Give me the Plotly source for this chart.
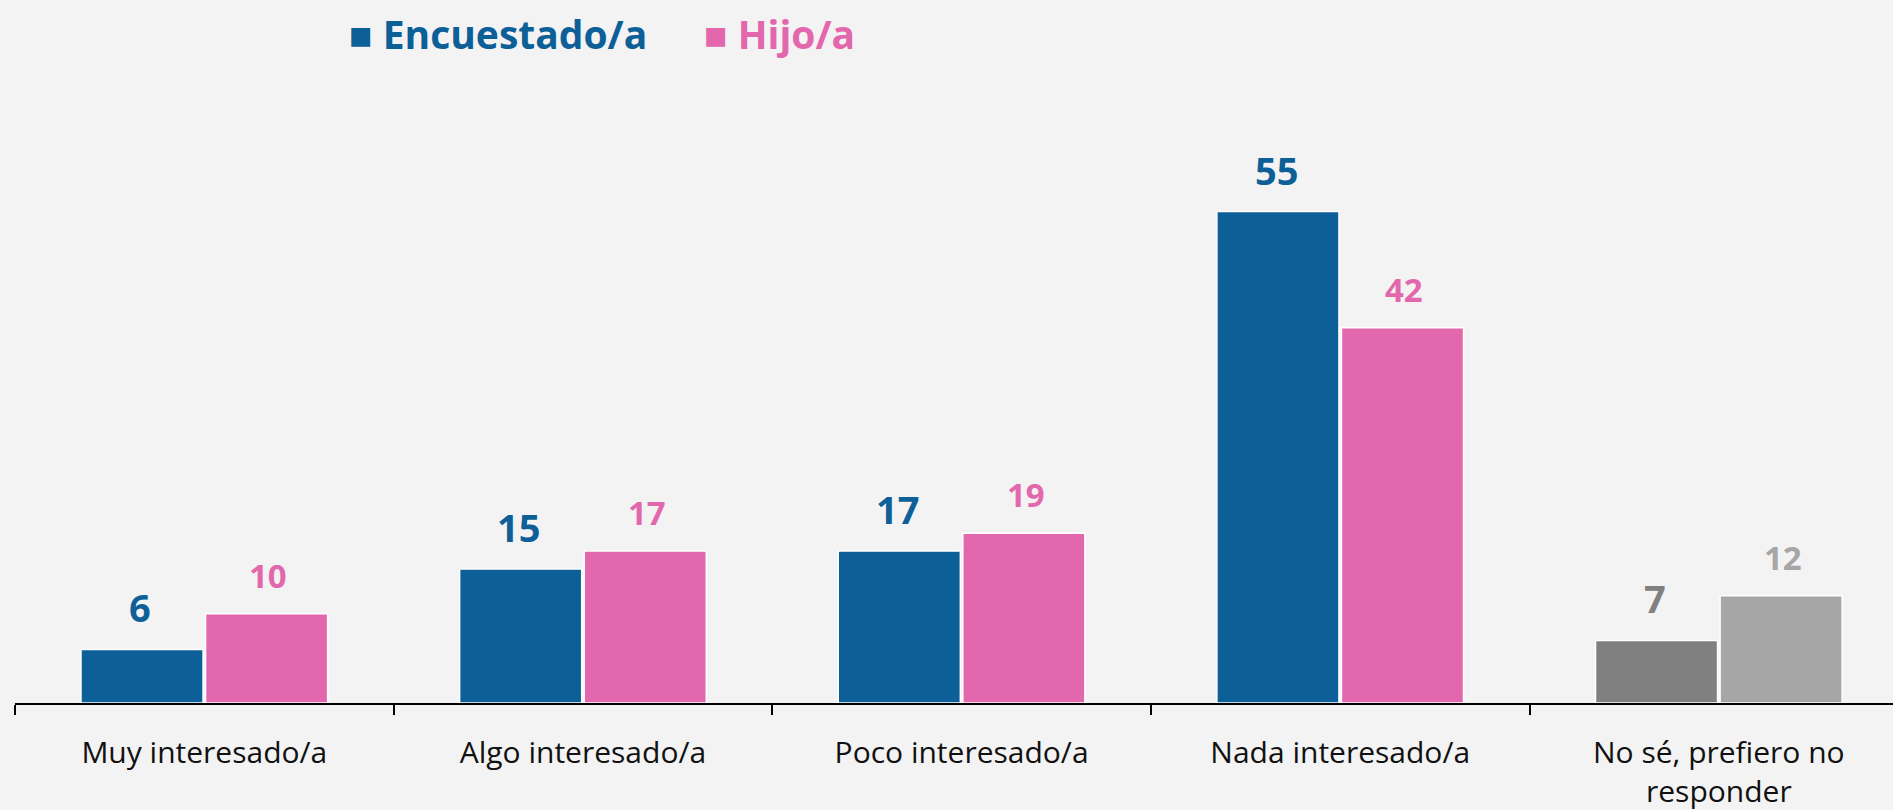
import plotly.graph_objects as go

categories = ["Muy interesado/a", "Algo interesado/a", "Poco interesado/a",
              "Nada interesado/a", "No sé, prefiero no<br>responder"]
encuestado = [6, 15, 17, 55, 7]
hijo = [10, 17, 19, 42, 12]

blue = "#0c5f97"
pink = "#e367ac"
gray_dark = "#808080"
gray_light = "#a6a6a6"

# last category ("No sé") drawn in grays
enc_colors = [blue] * 4 + [gray_dark]
hijo_colors = [pink] * 4 + [gray_light]

fig = go.Figure()

fig.add_trace(go.Bar(
    x=categories, y=encuestado, name="Encuestado/a",
    marker=dict(color=enc_colors, line=dict(color="white", width=1.5)),
    showlegend=False, hoverinfo="x+y"
))
fig.add_trace(go.Bar(
    x=categories, y=hijo, name="Hijo/a",
    marker=dict(color=hijo_colors, line=dict(color="white", width=1.5)),
    showlegend=False, hoverinfo="x+y"
))

# value labels above bars
for i, cat in enumerate(categories):
    fig.add_annotation(
        x=cat, y=encuestado[i], xshift=-64, yshift=14,
        text=f"<b>{encuestado[i]}</b>", showarrow=False, yanchor="bottom",
        font=dict(family="Open Sans", size=38, color=enc_colors[i])
    )
    fig.add_annotation(
        x=cat, y=hijo[i], xshift=64, yshift=14,
        text=f"<b>{hijo[i]}</b>", showarrow=False, yanchor="bottom",
        font=dict(family="Open Sans", size=33, color=hijo_colors[i])
    )

# legend drawn as text
fig.add_annotation(
    x=347, y=33, xref="paper", yref="paper", showarrow=False,
    text="<b>■ Encuestado/a</b>", xanchor="left", yanchor="middle",
    font=dict(family="Open Sans", size=39, color=blue)
)
fig.add_annotation(
    x=702, y=33, xref="paper", yref="paper", showarrow=False,
    text="<b>■ Hijo/a</b>", xanchor="left", yanchor="middle",
    font=dict(family="Open Sans", size=39, color=pink)
)

fig.update_layout(
    width=1893, height=810,
    barmode="group", bargap=0.342, bargroupgap=0.02,
    paper_bgcolor="#f3f3f3", plot_bgcolor="#f3f3f3",
    margin=dict(l=15, r=0, t=40, b=107),
    font=dict(family="Open Sans", color="#111111"),
)

# convert legend pixel positions into paper coordinates
for ann in fig.layout.annotations:
    if ann.xref == "paper":
        ann.x = (ann.x - 15) / (1893 - 15)
        ann.y = 1 + (40 - ann.y) / (810 - 40 - 107)

fig.update_xaxes(
    range=[-0.5, 4.46], showline=True, linecolor="black", linewidth=2,
    ticks="outside", tickson="boundaries", ticklen=10, tickwidth=1.5,
    tickcolor="black", ticklabelstandoff=22,
    tickfont=dict(family="Open Sans", size=30, color="#111111"),
    showgrid=False, zeroline=False
)
fig.update_yaxes(
    range=[0, 74.2], visible=False, showgrid=False, zeroline=False
)

fig.write_html("out.html", config={"displayModeBar": False},
               post_script="document.body.style.margin='0';")
